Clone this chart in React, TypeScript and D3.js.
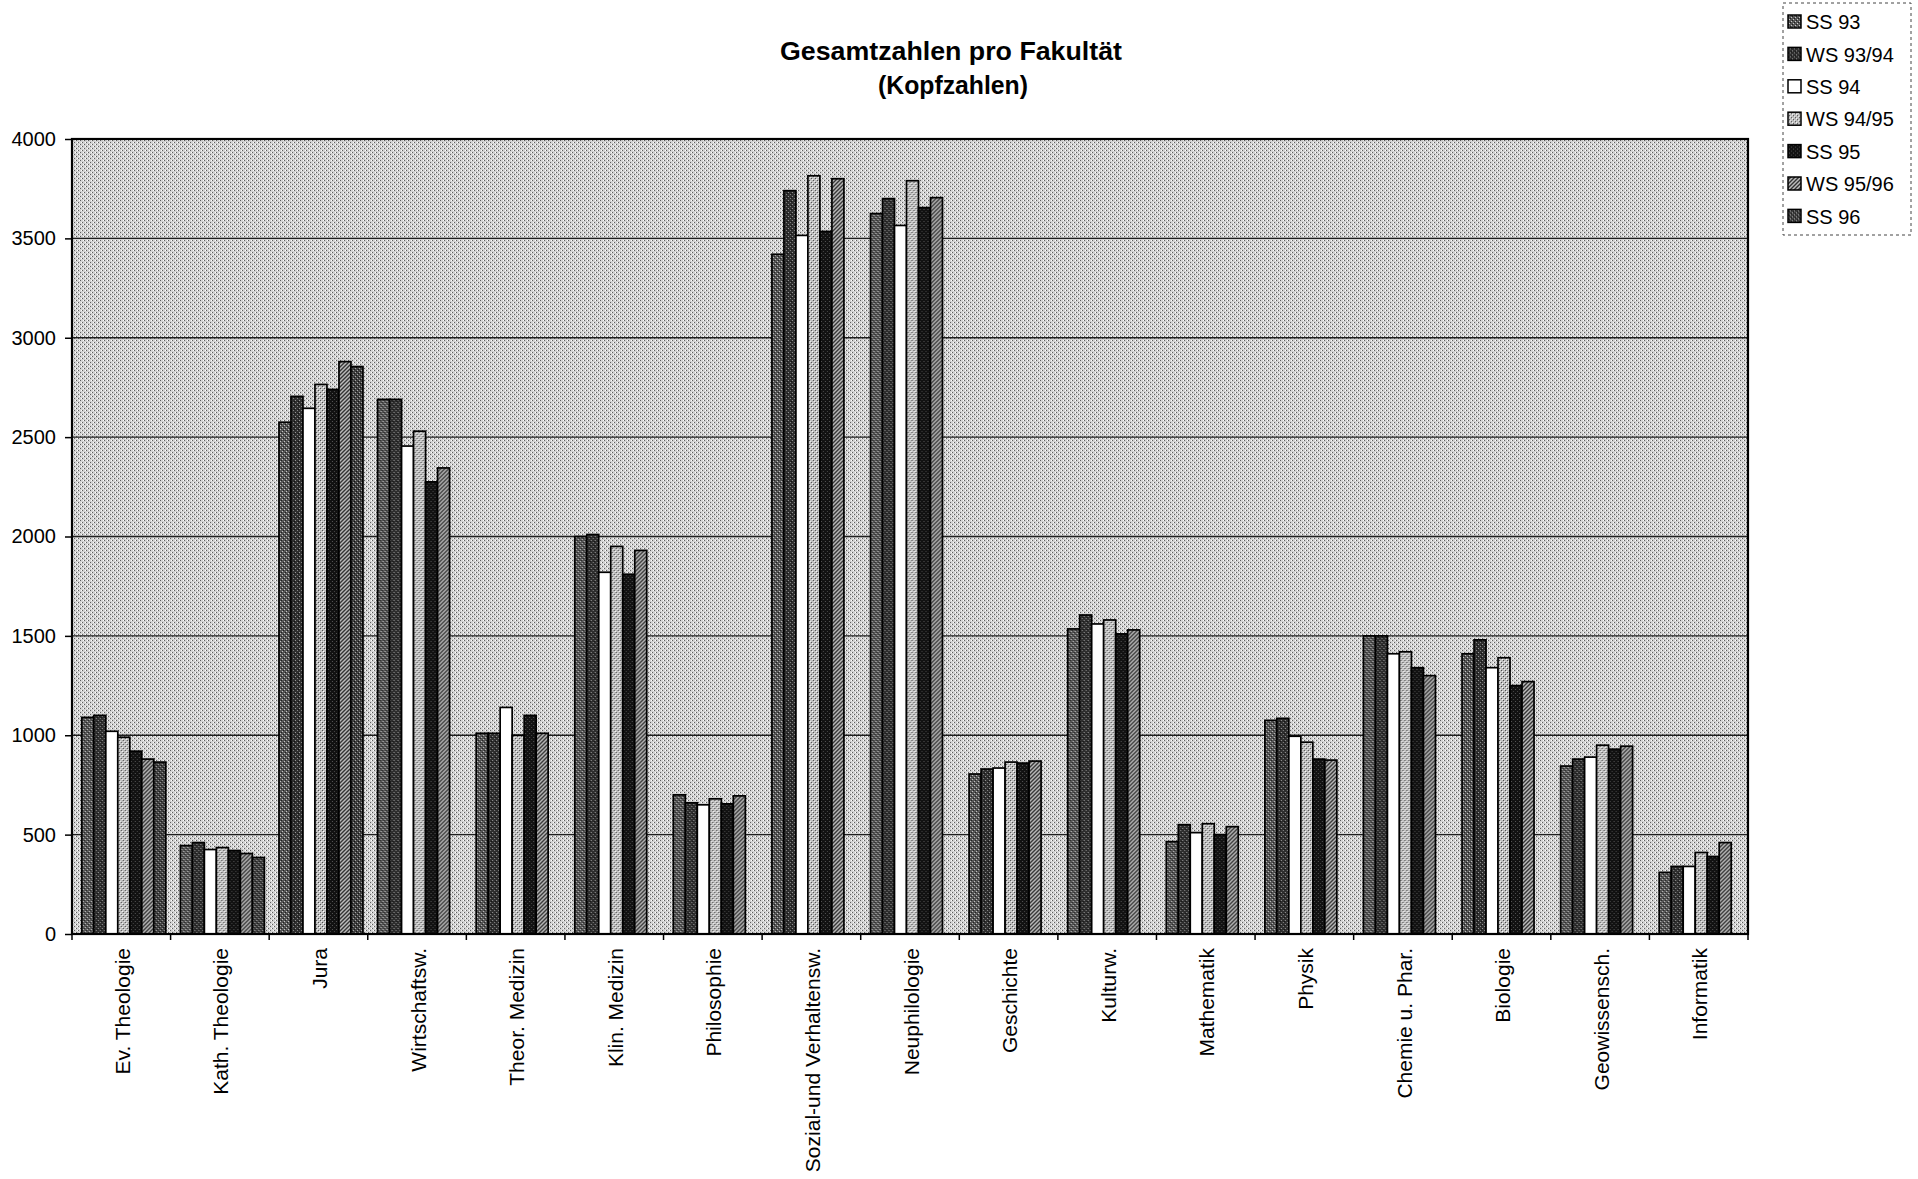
import React, { useEffect, useRef } from 'react';
import * as d3 from 'd3';

// Fakultäten (x-Achse)
const categories = [
  'Ev. Theologie', 'Kath. Theologie', 'Jura', 'Wirtschaftsw.', 'Theor. Medizin',
  'Klin. Medizin', 'Philosophie', 'Sozial-und Verhaltensw.', 'Neuphilologie',
  'Geschichte', 'Kulturw.', 'Mathematik', 'Physik', 'Chemie u. Phar.',
  'Biologie', 'Geowissensch.', 'Informatik',
];

const seriesNames = ['SS 93', 'WS 93/94', 'SS 94', 'WS 94/95', 'SS 95', 'WS 95/96', 'SS 96'];

// Kopfzahlen je Semester
const ss93 = [1090, 445, 2575, 2690, 1010, 2000, 700, 3420, 3625, 805, 1535, 465, 1075, 1500, 1410, 845, 310];
const ws9394 = [1100, 460, 2705, 2690, 1010, 2010, 660, 3740, 3700, 830, 1605, 550, 1085, 1500, 1480, 880, 340];
const ss94 = [1020, 425, 2645, 2455, 1140, 1820, 650, 3515, 3565, 835, 1560, 510, 995, 1410, 1340, 890, 340];
const ws9495 = [990, 435, 2765, 2530, 1000, 1950, 680, 3815, 3790, 865, 1580, 555, 965, 1420, 1390, 950, 410];
const ss95 = [920, 420, 2740, 2275, 1100, 1810, 655, 3535, 3655, 860, 1510, 500, 880, 1340, 1250, 930, 390];
const ws9596 = [880, 405, 2880, 2345, 1010, 1930, 695, 3800, 3705, 870, 1530, 540, 875, 1300, 1270, 945, 460];
const ss96 = [865, 385, 2855, null, null, null, null, null, null, null, null, null, null, null, null, null, null];

const seriesValues: (number | null)[][] = [ss93, ws9394, ss94, ws9495, ss95, ws9596, ss96];

const yTicks = [0, 500, 1000, 1500, 2000, 2500, 3000, 3500, 4000];

const FONT = '"Liberation Sans", Arial, sans-serif';

const App: React.FC = () => {
  const svgRef = useRef<SVGSVGElement | null>(null);

  useEffect(() => {
    if (!svgRef.current) return;
    const svg = d3.select(svgRef.current);
    svg.selectAll('*').remove();

    const plot = { left: 72, right: 1748, top: 139, bottom: 934 };

    const x = d3.scaleBand<string>().domain(categories).range([plot.left, plot.right]);
    const clusterW = 84;
    const x1 = d3.scaleBand<string>().domain(seriesNames).range([0, clusterW]);
    const groupOffset = (x.bandwidth() - clusterW) / 2 + 2.5;
    const y = d3.scaleLinear().domain([0, 4000]).range([plot.bottom, plot.top]);

    // halftone-like patterns
    const defs = svg.append('defs');
    const makePattern = (id: string, base: string, dots: [number, number, string][], size = 4) => {
      const p = defs.append('pattern')
        .attr('id', id)
        .attr('patternUnits', 'userSpaceOnUse')
        .attr('width', size)
        .attr('height', size);
      p.append('rect').attr('width', size).attr('height', size).attr('fill', base);
      dots.forEach(([dx, dy, c]) => {
        p.append('rect').attr('x', dx).attr('y', dy).attr('width', 1).attr('height', 1).attr('fill', c);
      });
    };
    makePattern('bg', '#d2d2d2', [[0, 0, '#5e5e5e'], [2, 2, '#5e5e5e'], [3, 0, '#ffffff'], [1, 2, '#ffffff']]);
    makePattern('p0', '#555555', [[1, 1, '#c8c8c8'], [3, 3, '#c8c8c8'], [0, 2, '#1e1e1e'], [2, 0, '#1e1e1e']]);
    makePattern('p1', '#2e2e2e', [[0, 0, '#9a9a9a'], [2, 2, '#8a8a8a'], [3, 1, '#111']]);
    makePattern('p2', '#ffffff', []);
    makePattern('p3', '#c0c0c0', [[1, 0, '#4a4a4a'], [3, 2, '#4a4a4a'], [0, 3, '#ffffff'], [2, 1, '#eeeeee']]);
    makePattern('p4', '#121212', [[1, 1, '#555'], [3, 3, '#444']]);
    // diagonal hatch
    const hatch = defs.append('pattern')
      .attr('id', 'p5')
      .attr('patternUnits', 'userSpaceOnUse')
      .attr('width', 4)
      .attr('height', 4);
    hatch.append('rect').attr('width', 4).attr('height', 4).attr('fill', '#bdbdbd');
    hatch.append('path').attr('d', 'M-1,1 L1,-1 M0,4 L4,0 M3,5 L5,3').attr('stroke', '#333').attr('stroke-width', 1.4);
    makePattern('p6', '#404040', [[0, 0, '#aaaaaa'], [2, 2, '#aaaaaa'], [1, 3, '#111'], [3, 1, '#111']]);

    const fills = seriesNames.map((_, i) => `url(#p${i})`);

    // title
    const title = svg.append('g').attr('font-family', FONT).attr('font-weight', 'bold').attr('text-anchor', 'middle');
    title.append('text').attr('x', 951).attr('y', 60).attr('font-size', 25)
      .attr('textLength', 342).attr('lengthAdjust', 'spacingAndGlyphs')
      .text('Gesamtzahlen pro Fakultät');
    title.append('text').attr('x', 953).attr('y', 94).attr('font-size', 25)
      .attr('textLength', 150).attr('lengthAdjust', 'spacingAndGlyphs')
      .text('(Kopfzahlen)');

    // plot background
    svg.append('rect')
      .attr('x', plot.left).attr('y', plot.top)
      .attr('width', plot.right - plot.left).attr('height', plot.bottom - plot.top)
      .attr('fill', 'url(#bg)');

    // horizontal grid lines
    svg.append('g')
      .selectAll('line')
      .data(yTicks.filter(d => d > 0 && d < 4000))
      .enter().append('line')
      .attr('x1', plot.left).attr('x2', plot.right)
      .attr('y1', d => y(d)).attr('y2', d => y(d))
      .attr('stroke', '#1e1e1e')
      .attr('stroke-width', 1.3);

    // bars
    const groups = svg.append('g')
      .selectAll('g')
      .data(categories)
      .enter().append('g')
      .attr('transform', d => `translate(${(x(d) ?? 0) + groupOffset},0)`);

    groups.selectAll('rect')
      .data((_, ci) => seriesValues.map((vals, si) => ({ s: seriesNames[si], i: si, v: vals[ci] })).filter(d => d.v != null))
      .enter().append('rect')
      .attr('x', d => x1(d.s) ?? 0)
      .attr('width', x1.bandwidth())
      .attr('y', d => y(d.v as number))
      .attr('height', d => plot.bottom - y(d.v as number))
      .attr('fill', d => fills[d.i])
      .attr('stroke', '#000')
      .attr('stroke-width', 1.7);

    // frame
    svg.append('rect')
      .attr('x', plot.left).attr('y', plot.top)
      .attr('width', plot.right - plot.left).attr('height', plot.bottom - plot.top)
      .attr('fill', 'none')
      .attr('stroke', '#000')
      .attr('stroke-width', 2.2);

    // y axis
    const yAxis = svg.append('g')
      .attr('transform', `translate(${plot.left},0)`)
      .call(d3.axisLeft(y).tickValues(yTicks).tickSize(7).tickPadding(9).tickFormat(d3.format('d')));
    yAxis.select('.domain').remove();
    yAxis.selectAll('line').attr('stroke', '#000').attr('stroke-width', 1.5);
    yAxis.selectAll('text')
      .attr('font-family', FONT)
      .attr('font-size', 20)
      .attr('fill', '#000');

    // x axis ticks between categories
    svg.append('g')
      .selectAll('line')
      .data(d3.range(categories.length + 1))
      .enter().append('line')
      .attr('x1', i => plot.left + i * x.bandwidth())
      .attr('x2', i => plot.left + i * x.bandwidth())
      .attr('y1', plot.bottom)
      .attr('y2', plot.bottom + 6)
      .attr('stroke', '#000')
      .attr('stroke-width', 1.5);

    // category labels (rotated)
    svg.append('g')
      .selectAll('text')
      .data(categories)
      .enter().append('text')
      .attr('transform', d => `translate(${(x(d) ?? 0) + x.bandwidth() / 2 + 1},948) rotate(-90)`)
      .attr('text-anchor', 'end')
      .attr('dy', '0.36em')
      .attr('font-family', FONT)
      .attr('font-size', 21)
      .text(d => d);

    // legend
    const legend = svg.append('g').attr('font-family', FONT);
    legend.append('rect')
      .attr('x', 1783).attr('y', 3)
      .attr('width', 128).attr('height', 232)
      .attr('fill', '#fff')
      .attr('stroke', '#444')
      .attr('stroke-width', 1)
      .attr('stroke-dasharray', '3,3');
    const items = legend.selectAll('g.item')
      .data(seriesNames)
      .enter().append('g')
      .attr('class', 'item')
      .attr('transform', (_, i) => `translate(1788,${22 + i * 32.4})`);
    items.append('rect')
      .attr('x', 0).attr('y', -7)
      .attr('width', 13).attr('height', 13)
      .attr('fill', (_, i) => fills[i])
      .attr('stroke', '#000')
      .attr('stroke-width', 1.5);
    items.append('text')
      .attr('x', 18).attr('y', 0)
      .attr('dy', '0.36em')
      .attr('font-size', 20)
      .text(d => d);
  }, []);

  return (
    <div style={{ position: 'absolute', left: 0, top: 0 }}>
      <svg ref={svgRef} width={1918} height={1179} style={{ display: 'block', background: '#fff' }} />
    </div>
  );
};

export default App;
